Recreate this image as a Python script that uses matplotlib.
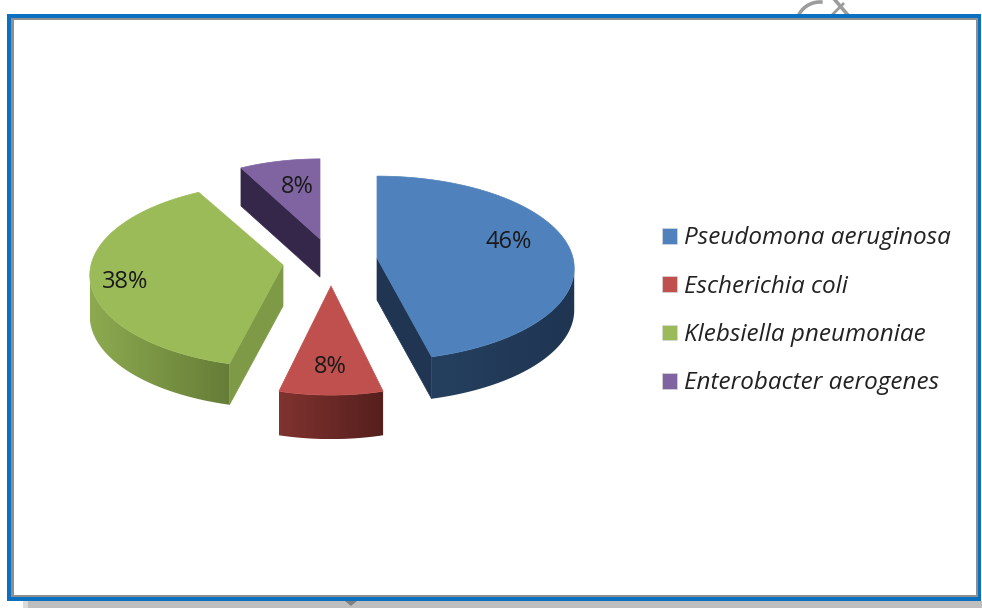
import numpy as np
import matplotlib
matplotlib.use("Agg")
import matplotlib.pyplot as plt
from matplotlib.patches import Polygon, Rectangle, Patch

# ---- data ----
categories = ["Pseudomona aeruginosa", "Escherichia coli", "Klebsiella pneumoniae", "Enterobacter aerogenes"]
values = [46, 8, 38, 8]
labels = ["46%", "8%", "38%", "8%"]

# ---- style / layout per slice (pixels) ----
top_colors = ["#4F81BD", "#C0504D", "#9BBB59", "#8064A2"]
wall_left = ["#25405F", "#80332F", "#8DAA50", "#35274A"]
wall_right = ["#1F3552", "#551F1D", "#657D37", "#35274A"]
inner_colors = ["#1F3552", "#6B2A28", "#7E9A47", "#35274A"]
apex = [(377, 258), (331, 286), (283, 265), (320, 239)]
radius_x = [196, 187, 192, 180]
radius_y = [91, 97, 91, 89]
depth = [42, 44, 41, 38]
label_pos = [(509, 242), (330, 367), (125, 282), (297, 187)]
persp = 0.111

plt.rcParams["font.family"] = ["Open Sans", "DejaVu Sans"]
fig = plt.figure(figsize=(9.82, 6.08), dpi=100, facecolor="white")
ax = fig.add_axes([0, 0, 1, 1])

# ---- frame and background remains ----
ax.add_patch(Rectangle((23, 601), 959, 7, fc="#BEBEBE", ec="none", zorder=1))
ax.add_patch(Rectangle((23, 601), 5, 7, fc="#DADADA", ec="none", zorder=1))
ax.add_patch(Polygon([(345, 601), (357, 601), (351, 606)], fc="#808080", ec="none", zorder=1))
t = np.radians(np.linspace(205, 272, 30))
ax.plot(820 + 24 * np.cos(t), 26 + 24 * np.sin(t), color="#9C9C9C", lw=2.6, zorder=1)
ax.plot([835, 847], [0, 14], color="#9C9C9C", lw=2.6, zorder=1)
ax.plot([833, 843], [14, 4], color="#9C9C9C", lw=2.0, zorder=1)
ax.add_patch(Rectangle((7.5, 14), 973.5, 587, fc="#0B70C0", ec="none", zorder=2))
ax.add_patch(Rectangle((11, 18), 967, 579, fc="#8F8F8F", ec="none", zorder=3))
ax.add_patch(Rectangle((14, 20), 962, 575, fc="white", ec="none", zorder=4))


def project(theta, ap, rx, ry):
    u, v = np.sin(theta), -np.cos(theta)
    d = 1 - persp * v
    return ap[0] + rx * u / d, ap[1] + ry * v / d


# ---- slices, drawn back to front ----
total = sum(values)
edges = np.cumsum([0] + values) / total * 2 * np.pi
z = 5
for i in [3, 0, 2, 1]:
    th = np.linspace(edges[i], edges[i + 1], 200)
    x, y = project(th, apex[i], radius_x[i], radius_y[i])
    dp = depth[i]
    ap = apex[i]
    # outer wall: only the part that faces the viewer, with horizontal shading
    front = -np.cos(th) >= persp
    if front.sum() > 1:
        fx, fy = x[front], y[front]
        outline = np.column_stack([np.r_[fx, fx[::-1]], np.r_[fy, fy[::-1] + dp]])
        wall = Polygon(outline, fc="none", ec="none", transform=ax.transData)
        ax.add_patch(wall)
        grad = np.linspace(np.array(matplotlib.colors.to_rgb(wall_left[i])),
                           np.array(matplotlib.colors.to_rgb(wall_right[i])), 256)[None, :, :]
        im = ax.imshow(grad, extent=(fx.min(), fx.max(), fy.max() + dp, fy.min()),
                       aspect="auto", zorder=z, interpolation="bilinear")
        im.set_clip_path(wall)
    # inner cut face
    if i == 0:
        ax.add_patch(Polygon([ap, (x[-1], y[-1]), (x[-1], y[-1] + dp), (ap[0], ap[1] + dp)],
                             fc=inner_colors[i], ec=inner_colors[i], lw=0.5, zorder=z + 0.5))
    if i in (2, 3):
        ax.add_patch(Polygon([ap, (x[0], y[0]), (x[0], y[0] + dp), (ap[0], ap[1] + dp)],
                             fc=inner_colors[i], ec=inner_colors[i], lw=0.5, zorder=z + 0.5))
    # top surface
    pts = np.column_stack([np.r_[ap[0], x], np.r_[ap[1], y]])
    ax.add_patch(Polygon(pts, fc=top_colors[i], ec=top_colors[i], lw=0.5, zorder=z + 0.7))
    z += 1

ax.set_xlim(0, 982)
ax.set_ylim(608, 0)
ax.axis("off")

# ---- data labels ----
for lab, (lx, ly) in zip(labels, label_pos):
    ax.text(lx, ly, lab, fontsize=17, color="#1A1A1A", ha="center", va="center", zorder=20)

# ---- legend ----
handles = [Patch(facecolor=c, edgecolor="#D8D8D8", linewidth=0.5) for c in top_colors]
ax.legend(handles, categories, loc="upper left", bbox_to_anchor=(662 / 982, 1 - 226.5 / 608),
          frameon=False, prop={"size": 17.5, "style": "italic"}, labelcolor="#222222",
          handlelength=0.62, handleheight=0.62, handletextpad=0.29, labelspacing=1.0,
          borderpad=0, borderaxespad=0).set_zorder(20)

fig.savefig("out.png", dpi=100, facecolor="white")
